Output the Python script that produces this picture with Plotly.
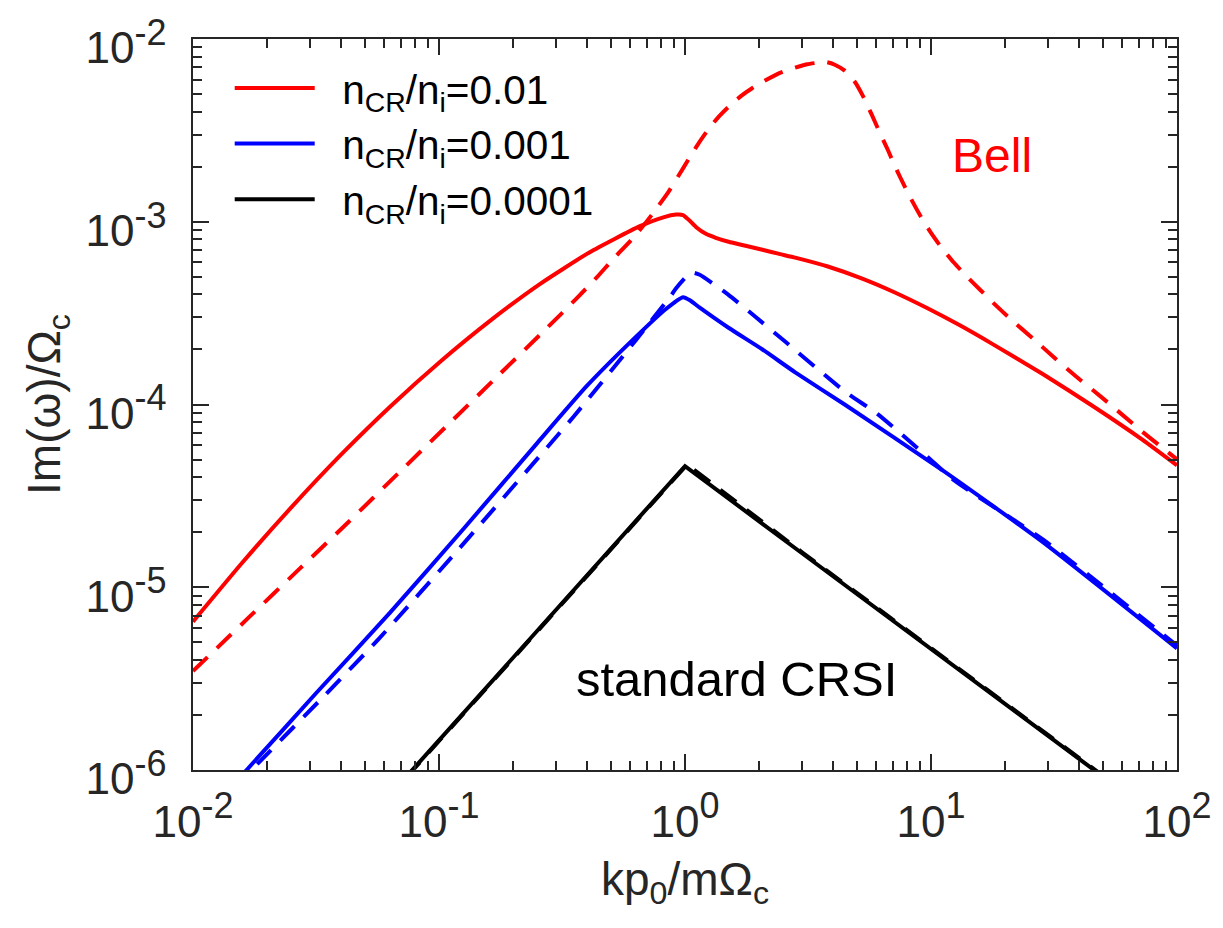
import plotly.graph_objects as go

# k p0 / (m Omega_c) sample points and growth rates Im(omega)/Omega_c
# n_CR/n_i = 0.01, full dispersion (solid)
k_r_full = [0.01, 0.01591, 0.02531, 0.04025, 0.06405, 0.1019, 0.1621, 0.2578, 0.4102, 0.6524,
            0.8227, 0.9198, 0.9815, 1.0378, 1.1075, 1.2155, 1.3335, 1.5043, 1.762,
            2.0634, 2.3933, 2.803, 3.8076, 5.2218, 7.0925, 9.636, 13.213, 17.947, 28.56,
            45.43, 72.27, 100.0]
g_r_full = [6.484e-6, 1.370e-5, 2.770e-5, 5.363e-5, 9.877e-5, 1.730e-4, 2.885e-4, 4.575e-4, 6.817e-4, 9.426e-4,
            1.061e-3, 1.094e-3, 1.088e-3, 1.022e-3, 9.367e-4, 8.585e-4, 8.166e-4, 7.768e-4, 7.389e-4,
            7.030e-4, 6.688e-4, 6.365e-4, 5.689e-4, 4.898e-4, 4.114e-4, 3.371e-4, 2.693e-4, 2.126e-4, 1.463e-4,
            9.815e-5, 6.426e-5, 4.645e-5]

# n_CR/n_i = 0.01, Bell approximation (dashed)
k_r_bell = [0.01, 0.01698, 0.02701, 0.04297, 0.06833, 0.1087, 0.1729, 0.2751, 0.3635, 0.4377,
            0.5125, 0.6058, 0.6963, 0.7782, 0.8541, 0.9371, 1.0378, 1.139, 1.2728, 1.3973,
            1.5043, 1.6819, 1.8803, 2.0634, 2.3933, 2.803, 3.1333, 3.4697, 3.773, 4.0634,
            4.4598, 4.8921, 5.2714, 5.7305, 6.1717, 6.6464, 7.0925, 7.5683, 8.308, 9.1139,
            10.0, 10.972, 12.379, 13.972, 15.906, 17.947, 21.018, 26.02, 31.33, 38.79,
            49.85, 60.0, 72.27, 87.0, 100.0]
g_r_bell = [3.477e-6, 6.902e-6, 1.256e-5, 2.284e-5, 4.206e-5, 7.745e-5, 1.427e-4, 2.627e-4, 3.818e-4, 4.960e-4,
            6.286e-4, 7.963e-4, 9.968e-4, 1.217e-3, 1.449e-3, 1.768e-3, 2.214e-3, 2.702e-3, 3.340e-3, 3.854e-3,
            4.258e-3, 4.855e-3, 5.397e-3, 5.814e-3, 6.465e-3, 6.966e-3, 7.278e-3, 7.415e-3, 7.462e-3, 7.233e-3,
            6.711e-3, 5.852e-3, 4.915e-3, 3.878e-3, 3.099e-3, 2.507e-3, 2.054e-3, 1.703e-3, 1.328e-3, 1.061e-3,
            8.694e-4, 7.300e-4, 5.980e-4, 5.023e-4, 4.220e-4, 3.587e-4, 2.938e-4, 2.291e-4, 1.830e-4, 1.427e-4,
            1.084e-4, 8.775e-5, 7.099e-5, 5.815e-5, 5.009e-5]

# n_CR/n_i = 0.001, full dispersion (solid)
k_b_full = [0.01413, 0.01652, 0.03162, 0.0631, 0.1259, 0.2512, 0.3981, 0.631, 0.8318, 0.982,
            1.047, 1.148, 1.503, 2.065, 2.805, 4.457, 11.27, 28.58, 100.0]
g_b_full = [7.94e-7, 1.0e-6, 2.63e-6, 7.24e-6, 2.09e-5, 6.17e-5, 1.259e-4, 2.344e-4, 3.311e-4, 3.864e-4,
            3.715e-4, 3.388e-4, 2.63e-4, 2.0e-4, 1.50e-4, 1.0e-4, 4.32e-5, 1.76e-5, 4.63e-6]

# n_CR/n_i = 0.001, Bell approximation (dashed)
k_b_bell = [0.01479, 0.0173, 0.0347, 0.0568, 0.1194, 0.353, 0.631, 0.879, 0.92, 1.057,
            1.148, 1.503, 1.932, 2.553, 4.457, 6.053, 9.638, 12.39, 28.58, 100.0]
g_b_bell = [7.94e-7, 1.0e-6, 2.60e-6, 5.20e-6, 1.60e-5, 8.60e-5, 2.25e-4, 3.96e-4, 4.33e-4, 5.28e-4,
            5.13e-4, 3.98e-4, 3.02e-4, 2.21e-4, 1.18e-4, 8.89e-5, 5.20e-5, 3.85e-5, 1.82e-5, 4.79e-6]

# n_CR/n_i = 0.0001, full dispersion (solid) and Bell approximation (dashed)
k_k_full = [0.06, 0.1, 0.3, 1.0, 3.0, 10.0, 30.0, 60.0]
g_k_full = [6.76e-7, 1.45e-6, 7.56e-6, 4.6e-5, 1.53e-5, 4.6e-6, 1.53e-6, 7.67e-7]
k_k_bell = [0.06, 0.1, 0.3, 1.02, 3.0, 10.0, 30.0, 60.0]
g_k_bell = [6.7e-7, 1.44e-6, 7.5e-6, 4.7e-5, 1.55e-5, 4.65e-6, 1.55e-6, 7.75e-7]

legend_labels = ["\u00a0\u00a0n<sub>CR</sub>/n<sub>i</sub>=0.01",
                 "\u00a0\u00a0n<sub>CR</sub>/n<sub>i</sub>=0.001",
                 "\u00a0\u00a0n<sub>CR</sub>/n<sub>i</sub>=0.0001"]

x_tickvals = [0.01, 0.1, 1, 10, 100]
x_exps = ["-2", "-1", "0", "1", "2"]
y_tickvals = [1e-6, 1e-5, 1e-4, 1e-3, 1e-2]
y_exps = ["-6", "-5", "-4", "-3", "-2"]


def power_label(e):
    return "10<sup><span style='font-size:36px'>%s</span></sup>" % e


RED, BLUE, BLACK = "#ff0000", "#0000ff", "#000000"
FONT = "Arial, Liberation Sans, Helvetica, sans-serif"
AXC = "#262626"
LW = 4
DASH = "20px,13px"

fig = go.Figure()

solid = [(k_r_full, g_r_full, RED, legend_labels[0], "spline"),
         (k_b_full, g_b_full, BLUE, legend_labels[1], "spline"),
         (k_k_full, g_k_full, BLACK, legend_labels[2], "linear")]
dashed = [(k_r_bell, g_r_bell, RED, "spline"),
          (k_b_bell, g_b_bell, BLUE, "spline"),
          (k_k_bell, g_k_bell, BLACK, "linear")]

for k, g, c, name, shp in solid:
    fig.add_trace(go.Scatter(x=k, y=g, mode="lines", name=name,
                             line=dict(color=c, width=LW, shape=shp, smoothing=0.5)))
for k, g, c, shp in dashed:
    fig.add_trace(go.Scatter(x=k, y=g, mode="lines", showlegend=False,
                             line=dict(color=c, width=LW, dash=DASH, shape=shp, smoothing=0.5)))

axis_common = dict(
    type="log", showline=True, linecolor=AXC, linewidth=1.5, mirror="ticks",
    ticks="inside", ticklen=16, tickwidth=1.5, tickcolor=AXC, showgrid=False, zeroline=False,
    tickfont=dict(family=FONT, size=44, color=AXC), ticklabeloverflow="allow",
    minor=dict(ticks="inside", ticklen=9, tickwidth=1.5, tickcolor=AXC, showgrid=False, dtick="D1"),
)

fig.update_xaxes(range=[-2, 2], tickvals=x_tickvals, ticktext=[power_label(e) for e in x_exps],
                 ticklabelstandoff=12,
                 title=dict(text="kp<sub>0</sub>/mΩ<sub>c</sub>", font=dict(family=FONT, size=46, color=AXC), standoff=18),
                 **axis_common)
fig.update_yaxes(range=[-6, -2], tickvals=y_tickvals, ticktext=[power_label(e) for e in y_exps],
                 ticklabelstandoff=16, ticklabelshift=9,
                 title=dict(text="Im(ω)/Ω<sub>c</sub>", font=dict(family=FONT, size=46, color=AXC), standoff=10),
                 **axis_common)

fig.add_annotation(x=1.246, y=-2.639, xref="x", yref="y", text="Bell", showarrow=False,
                   font=dict(family=FONT, size=48, color=RED))
fig.add_annotation(x=0.21, y=-5.50, xref="x", yref="y", text="standard CRSI", showarrow=False,
                   font=dict(family=FONT, size=49, color="#000000"))

fig.update_layout(
    width=1223, height=928,
    margin=dict(l=193, r=38, t=31, b=158),
    plot_bgcolor="white", paper_bgcolor="white",
    font=dict(family=FONT, color="#000000"),
    legend=dict(x=0.0373, y=0.978, xanchor="left", yanchor="top", bgcolor="rgba(0,0,0,0)",
                font=dict(family=FONT, size=40.5, color="#000000"), itemwidth=80,
                tracegroupgap=0),
)

fig.write_html("out.html")
